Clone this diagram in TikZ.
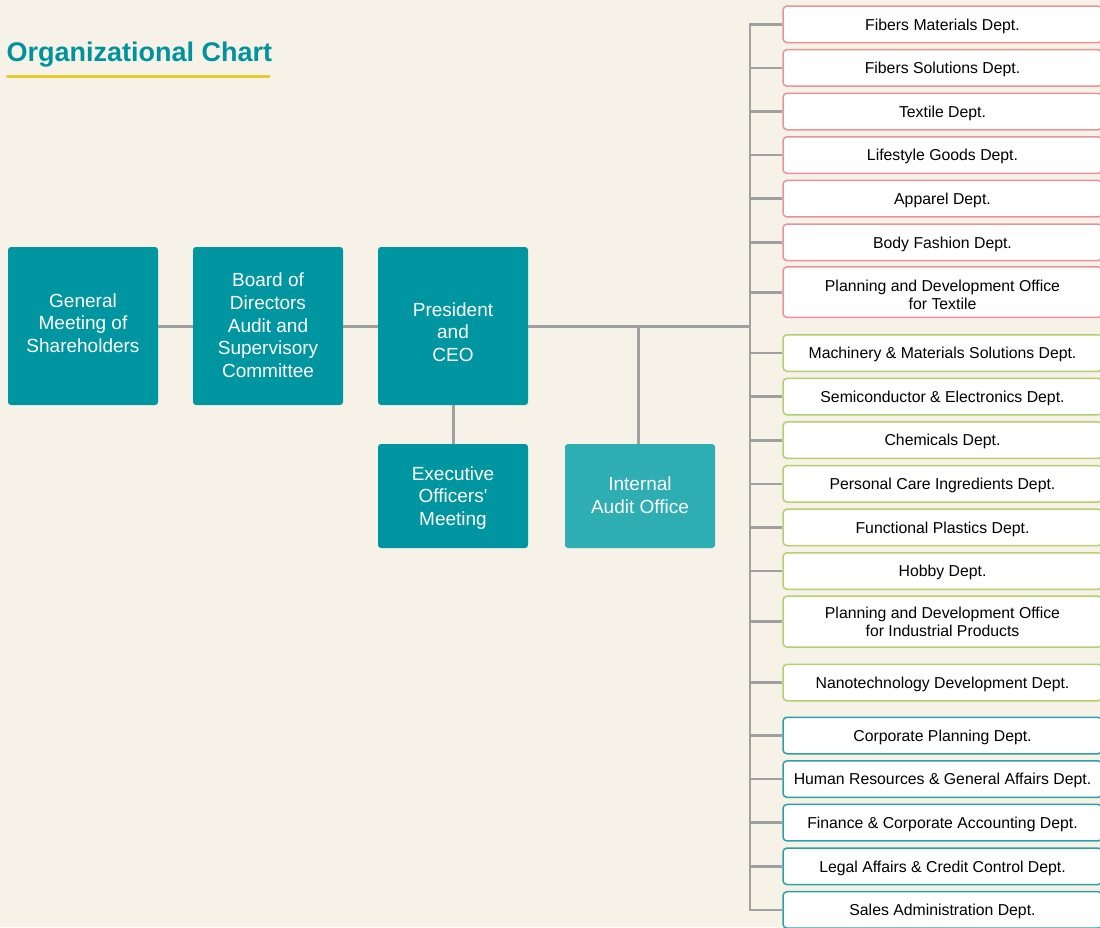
\documentclass[tikz,border=0pt]{standalone}
\usepackage{fontspec}
\setmainfont{Liberation Sans}[Ligatures=TeXOff]
\newcommand{\straightquote}{\XeTeXglyph\XeTeXcharglyph"0027\relax}
\definecolor{bgc}{HTML}{F7F2E7}
\definecolor{tealbox}{HTML}{0096A1}
\definecolor{tealsoft}{HTML}{2EADB3}
\definecolor{titlec}{HTML}{00939D}
\definecolor{yellowc}{HTML}{E5CC2C}
\definecolor{linec}{HTML}{A0A0A0}
\definecolor{pinkc}{HTML}{E8939A}
\definecolor{greenc}{HTML}{B4CF70}
\definecolor{tealc}{HTML}{2E9FAA}
\begin{document}
\begin{tikzpicture}[x=1pt,y=-1pt,
  bigbox/.style={fill=tealbox, rounded corners=3pt, minimum width=150pt, minimum height=158pt, inner sep=0pt},
  smallbox/.style={bigbox, minimum height=104pt},
  boxtext/.style={text=white, align=center, font=\fontsize{19}{22.7}\selectfont, inner sep=0pt},
  deptbox/.style={draw, fill=white, line width=1.5pt, rounded corners=4pt, minimum width=319pt,
    minimum height=36.5pt, align=center, text=black, font=\fontsize{15.8}{18}\selectfont,
    inner sep=0pt, text depth=0pt},
  pinkbox/.style={deptbox, draw=pinkc},
  greenbox/.style={deptbox, draw=greenc},
  cyanbox/.style={deptbox, draw=tealc},
  conn/.style={draw=linec, line width=3pt},
  bus/.style={draw=linec, line width=2.6pt, line join=miter}
]
\useasboundingbox (0,0) rectangle (1100,927);
\fill[bgc] (0,0) rectangle (1100,927);
\begin{scope}
\clip (0,0) rectangle (1100,927);

% title
\node[anchor=base west, font=\bfseries\fontsize{27}{32}\selectfont, text=titlec, inner sep=0pt] (title) at (6.5,61.7) {Organizational Chart};
\draw[yellowc, line width=3pt, line cap=round] (7.5,76.5) -- (269,76.5);

% main boxes
\node[bigbox] (gm) at (83,326) {};
\node[boxtext] (gmT) at (83,323) {General\\Meeting of\\Shareholders};
\node[bigbox] (bod) at (268,326) {};
\node[boxtext] (bodT) at (268,325.5) {Board of\\Directors\\Audit and\\Supervisory\\Committee};
\node[bigbox] (pres) at (453,326) {};
\node[boxtext] (presT) at (453,332) {President\\and\\CEO};
\node[smallbox] (exec) at (453,496) {};
\node[boxtext] (execT) at (453,498) {Executive\\Officers\straightquote\\Meeting};
\node[smallbox, fill=tealsoft] (ia) at (640,496) {};
\node[boxtext] (iaT) at (640,495.5) {Internal\\Audit Office};

% departments
\node[pinkbox] (d1) at (942.5,24.3) {Fibers Materials Dept.};
\node[pinkbox] (d2) at (942.5,67.9) {Fibers Solutions Dept.};
\node[pinkbox] (d3) at (942.5,111.5) {Textile Dept.};
\node[pinkbox] (d4) at (942.5,155.1) {Lifestyle Goods Dept.};
\node[pinkbox] (d5) at (942.5,198.7) {Apparel Dept.};
\node[pinkbox] (d6) at (942.5,242.3) {Body Fashion Dept.};
\node[pinkbox, minimum height=50.5pt, text height=34.8pt] (d7) at (942.5,292.2) {Planning and Development Office\\for Textile};
\node[greenbox] (d8) at (942.5,353) {Machinery \& Materials Solutions Dept.};
\node[greenbox] (d9) at (942.5,396.6) {Semiconductor \& Electronics Dept.};
\node[greenbox] (d10) at (942.5,440.2) {Chemicals Dept.};
\node[greenbox] (d11) at (942.5,483.8) {Personal Care Ingredients Dept.};
\node[greenbox] (d12) at (942.5,527.4) {Functional Plastics Dept.};
\node[greenbox] (d13) at (942.5,571) {Hobby Dept.};
\node[greenbox, minimum height=51pt] (d14) at (942.5,621.7) {Planning and Development Office\\for Industrial Products};
\node[greenbox] (d15) at (942.5,682.5) {Nanotechnology Development Dept.};
\node[cyanbox] (d16) at (942.5,735.5) {Corporate Planning Dept.};
\node[cyanbox] (d17) at (942.5,779.1) {Human Resources \& General Affairs Dept.};
\node[cyanbox] (d18) at (942.5,822.7) {Finance \& Corporate Accounting Dept.};
\node[cyanbox] (d19) at (942.5,866.3) {Legal Affairs \& Credit Control Dept.};
\node[cyanbox] (d20) at (942.5,909.9) {Sales Administration Dept.};

% connectors
\coordinate (busbot) at (750,909.9);
\coordinate (br) at (638,326);
\draw[conn] (gm) -- (bod);
\draw[conn] (bod) -- (pres);
\draw[conn] (pres) -- (exec);
\draw[conn] (pres.east) -- (pres.east -| busbot);
\draw[conn] (br) -- (br |- ia.north);
\draw[bus] (d1.west) -| (busbot) -- (d20.west);
\foreach \i in {2,...,19} {
  \draw[bus] (d\i.west) -- (d\i.west -| busbot);
}
\end{scope}
\end{tikzpicture}
\end{document}
